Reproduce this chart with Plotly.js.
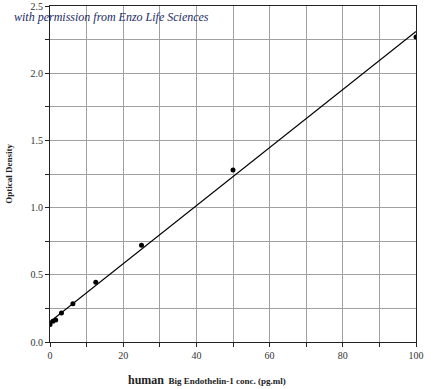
<!DOCTYPE html>
<html>
<head>
<meta charset="utf-8">
<script src="https://cdn.plot.ly/plotly-3.0.1.min.js"></script>
<style>html,body{margin:0;padding:0;background:#fff;}#chart{width:440px;height:389px;}</style>
</head>
<body>
<div id="chart"></div>
<script>
// Standard concentrations (pg/ml) and measured optical density
const concentration = [0, 0.78, 1.56, 3.125, 6.25, 12.5, 25, 50, 100];
const opticalDensity = [0.13, 0.155, 0.163, 0.215, 0.285, 0.445, 0.72, 1.28, 2.27];
// Linear fit line endpoints
const fitX = [0, 100];
const fitY = [0.15, 2.31];
const xTickVals = [0, 20, 40, 60, 80, 100];
const yTickVals = [0, 0.5, 1.0, 1.5, 2.0, 2.5];

const serif = "Liberation Serif";

const traces = [
  {x: fitX, y: fitY, mode: 'lines', line: {color: '#000', width: 1.2}, hoverinfo: 'skip', showlegend: false},
  {x: concentration, y: opticalDensity, mode: 'markers', marker: {color: '#000', size: 5}, showlegend: false}
];

const layout = {
  width: 440, height: 389,
  margin: {l: 50, r: 24, t: 6, b: 47},
  paper_bgcolor: '#fff', plot_bgcolor: '#fff',
  showlegend: false,
  xaxis: {
    range: [0, 100], tickvals: xTickVals, ticktext: xTickVals.map(String),
    ticks: 'outside', ticklen: 4, tickcolor: '#222',
    showgrid: true, gridcolor: '#a0a0a0', gridwidth: 1,
    minor: {dtick: 10, tick0: 0, ticks: 'outside', ticklen: 4, tickcolor: '#222', showgrid: true, gridcolor: '#a0a0a0'},
    showline: true, linecolor: '#222', linewidth: 1, mirror: true,
    zeroline: false,
    tickfont: {family: serif, size: 10, color: '#333'}
  },
  yaxis: {
    range: [0, 2.5], tickvals: yTickVals, ticktext: yTickVals.map(v => v.toFixed(1)),
    ticks: 'outside', ticklen: 4, tickcolor: '#222',
    showgrid: true, gridcolor: '#a0a0a0', gridwidth: 1,
    minor: {dtick: 0.25, tick0: 0, ticks: 'outside', ticklen: 4, tickcolor: '#222', showgrid: true, gridcolor: '#a0a0a0'},
    showline: true, linecolor: '#222', linewidth: 1, mirror: true,
    zeroline: false,
    tickfont: {family: serif, size: 10, color: '#333'},
    title: {text: '<b>Optical Density</b>', font: {family: serif, size: 9, color: '#222'}, standoff: 16}
  },
  annotations: [
    {xref: 'paper', yref: 'paper', x: 0.428, y: -0.112, xanchor: 'center', yanchor: 'middle', showarrow: false,
     text: "<b><span style='font-size:12px'>human</span>  Big Endothelin-1 conc. (pg.ml)</b>",
     font: {family: serif, size: 9, color: '#222'}},
    {xref: 'paper', yref: 'paper', x: -0.104, y: 0.966, xanchor: 'left', yanchor: 'middle', showarrow: false,
     text: '<i>with permission from Enzo Life Sciences</i>',
     font: {family: serif, size: 12, color: '#1c2a66'}}
  ]
};

Plotly.newPlot('chart', traces, layout, {displayModeBar: false, staticPlot: true});
</script>
</body>
</html>
